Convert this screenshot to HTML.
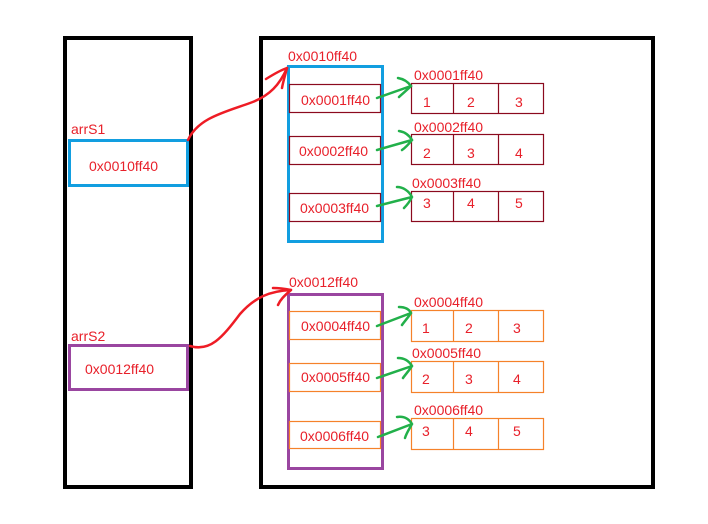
<!DOCTYPE html>
<html><head><style>
html,body{margin:0;padding:0;background:#fff}
svg{display:block}
text{font-family:"Liberation Sans",sans-serif;font-size:14px;fill:#e8202a}
</style></head><body>
<svg width="708" height="524" viewBox="0 0 708 524" xmlns="http://www.w3.org/2000/svg">
<rect x="0" y="0" width="708" height="524" fill="#fff"/>
<rect x="65" y="38" width="126" height="449" fill="none" stroke="#000" stroke-width="4"/>
<rect x="261" y="38" width="392" height="449" fill="none" stroke="#000" stroke-width="4"/>

<text x="71" y="134">arrS1</text>
<rect x="69.5" y="140.5" width="118" height="45" fill="none" stroke="#129ee0" stroke-width="3"/>
<text x="89" y="171">0x0010ff40</text>
<text x="71" y="341">arrS2</text>
<rect x="69.5" y="345.5" width="118" height="44" fill="none" stroke="#9a46a0" stroke-width="3"/>
<text x="85" y="374">0x0012ff40</text>

<text x="288" y="61">0x0010ff40</text>
<rect x="288.5" y="66.5" width="94" height="175" fill="none" stroke="#129ee0" stroke-width="3"/>
<g fill="#fff" stroke="#8b0a1e" stroke-width="1.2">
<rect x="289.5" y="84.5" width="91" height="28"/>
<rect x="289.5" y="136.5" width="91" height="28"/>
<rect x="289.5" y="193.5" width="91" height="28"/>
</g>
<text x="301" y="105">0x0001ff40</text>
<text x="299" y="156">0x0002ff40</text>
<text x="300" y="213">0x0003ff40</text>
<g fill="none" stroke="#8b0a1e" stroke-width="1.2">
<rect x="411.5" y="83.5" width="132" height="30"/><line x1="453.5" y1="83" x2="453.5" y2="114"/><line x1="498.5" y1="83" x2="498.5" y2="114"/>
<rect x="411.5" y="134.5" width="132" height="30"/><line x1="453.5" y1="134" x2="453.5" y2="165"/><line x1="498.5" y1="134" x2="498.5" y2="165"/>
<rect x="411.5" y="191.5" width="132" height="30"/><line x1="453.5" y1="191" x2="453.5" y2="222"/><line x1="498.5" y1="191" x2="498.5" y2="222"/>
</g>
<text x="414" y="80">0x0001ff40</text>
<text x="414" y="132">0x0002ff40</text>
<text x="412" y="188">0x0003ff40</text>
<text x="423" y="107">1</text><text x="467" y="107">2</text><text x="515" y="107">3</text>
<text x="423" y="158">2</text><text x="467" y="158">3</text><text x="515" y="158">4</text>
<text x="423" y="208">3</text><text x="467" y="208">4</text><text x="515" y="208">5</text>

<text x="289" y="287">0x0012ff40</text>
<rect x="288.5" y="294.5" width="94" height="174" fill="none" stroke="#9a46a0" stroke-width="3"/>
<g fill="#fff" stroke="#f5822a" stroke-width="1.2">
<rect x="289.5" y="311.5" width="91" height="28"/>
<rect x="289.5" y="363.5" width="91" height="28"/>
<rect x="289.5" y="421.5" width="91" height="27"/>
</g>
<text x="301" y="331">0x0004ff40</text>
<text x="301" y="382">0x0005ff40</text>
<text x="300" y="441">0x0006ff40</text>
<g fill="none" stroke="#f5822a" stroke-width="1.2">
<rect x="411.5" y="310.5" width="132" height="31"/><line x1="453.5" y1="310" x2="453.5" y2="342"/><line x1="498.5" y1="310" x2="498.5" y2="342"/>
<rect x="411.5" y="361.5" width="132" height="31"/><line x1="453.5" y1="361" x2="453.5" y2="393"/><line x1="498.5" y1="361" x2="498.5" y2="393"/>
<rect x="411.5" y="418.5" width="132" height="31"/><line x1="453.5" y1="418" x2="453.5" y2="450"/><line x1="498.5" y1="418" x2="498.5" y2="450"/>
</g>
<text x="414" y="307">0x0004ff40</text>
<text x="412" y="358">0x0005ff40</text>
<text x="414" y="415">0x0006ff40</text>
<text x="422" y="333">1</text><text x="465" y="333">2</text><text x="513" y="333">3</text>
<text x="422" y="384">2</text><text x="465" y="384">3</text><text x="513" y="384">4</text>
<text x="422" y="436">3</text><text x="465" y="436">4</text><text x="513" y="436">5</text>

<g fill="none" stroke="#ee1c25" stroke-width="2.5" stroke-linecap="round">
<path d="M188,140 C198,118 225,112 250,103 C270,96 280,84 287,68"/>
<path d="M266,79 C274,74 281,70 287,68 M287,68 C285,76 283,82 282,88"/>
<path d="M190,346 C210,352 222,338 240,314 C255,297 270,291 291,290"/>
<path d="M273,288 C280,288 286,289 291,290 M291,290 C284,296 280,300 278,305"/>
</g>
<g fill="none" stroke="#22b04a" stroke-width="2.5" stroke-linecap="round">
<path d="M377,98 L411,86 M398,78 C404,79 408,82 411,86 C406,91 402,94 399,97"/>
<path d="M377,150 L412,140 M399,131 C405,132 409,135 412,140 C408,145 405,148 402,150"/>
<path d="M377,206 L412,197 M397,187 C403,187 409,191 412,197 C409,203 406,206 404,208"/>
<path d="M377,326 L411,313 M399,307 C405,307 409,309 411,313 C407,319 404,322 402,325"/>
<path d="M377,378 L412,366 M398,358 C405,358 409,361 412,366 C408,372 405,375 403,378"/>
<path d="M378,437 L412,424 M397,417 C404,416 409,419 412,424 C408,431 406,434 405,438"/>
</g>
</svg>
</body></html>
